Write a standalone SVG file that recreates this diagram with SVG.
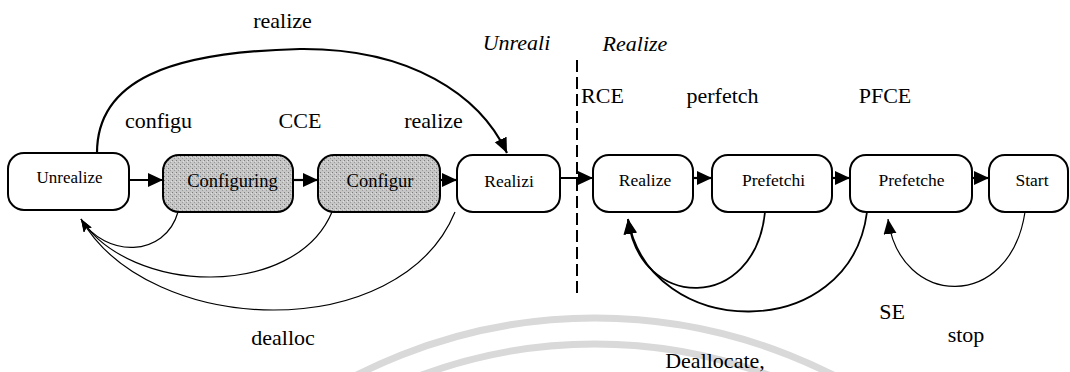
<svg xmlns="http://www.w3.org/2000/svg" width="1070" height="372" viewBox="0 0 1070 372">
  <defs>
    <pattern id="halftone" width="4" height="4" patternUnits="userSpaceOnUse">
      <rect width="4" height="4" fill="#c6c6c6"/>
      <rect x="0" y="0" width="1" height="1" fill="#7a7a7a"/>
      <rect x="2" y="2" width="1" height="1" fill="#9a9a9a"/>
      <rect x="3" y="1" width="1" height="1" fill="#e0e0e0"/>
    </pattern>
    <marker id="head" markerUnits="userSpaceOnUse" markerWidth="16" markerHeight="14" refX="15" refY="7" orient="auto">
      <path d="M0,0 L15,7 L0,14 z" fill="#000"/>
    </marker>
    <marker id="headMid" markerUnits="userSpaceOnUse" markerWidth="16" markerHeight="14" refX="15" refY="6.5" orient="auto">
      <path d="M0,0 L15,6.5 L0,13 z" fill="#000"/>
    </marker>
    <marker id="headThin" markerUnits="userSpaceOnUse" markerWidth="14" markerHeight="10" refX="13" refY="4.5" orient="auto">
      <path d="M0,0 L13,4.5 L0,9 L3,4.5 z" fill="#000"/>
    </marker>
  </defs>

  <!-- faint background arcs -->
  <g id="backdrop" fill="none" stroke="#d9d9d9" stroke-width="7">
    <circle cx="595" cy="844" r="526"/>
    <circle cx="595" cy="844" r="500"/>
  </g>

  <!-- phase divider -->
  <line x1="577" y1="60" x2="577" y2="296" stroke="#000" stroke-width="2" stroke-dasharray="12 5"/>

  <!-- connectors -->
  <g id="connectors" fill="none" stroke="#000">
    <g stroke-width="2.2" marker-end="url(#head)">
      <line x1="129" y1="180" x2="163" y2="180"/>
      <line x1="293" y1="180" x2="318" y2="180"/>
      <line x1="440" y1="180" x2="457" y2="180"/>
      <line x1="560" y1="178" x2="593" y2="178"/>
      <line x1="693" y1="178" x2="712" y2="178"/>
      <line x1="832" y1="178" x2="850" y2="178"/>
      <line x1="972" y1="178" x2="989" y2="178"/>
    </g>

    <!-- realize: Unrealized straight to Realizing -->
    <path stroke-width="2.2" d="M97,153 C97,80 170,52 300,49 C410,48 480,95 507,153" marker-end="url(#headMid)"/>

    <!-- deallocate back to Unrealized -->
    <g stroke-width="1.2" marker-end="url(#headThin)">
      <path d="M178,212 C165,258 105,258 81,219"/>
      <path d="M332,212 C295,300 130,295 81,219"/>
      <path d="M455,212 C400,345 150,338 81,219"/>
    </g>

    <!-- deallocate back to Realized -->
    <g stroke-width="1.8" marker-end="url(#headMid)">
      <path d="M765,212 C755,312 640,312 628,219"/>
      <path d="M867,212 C850,345 650,342 628,219"/>
    </g>

    <!-- stop back to Prefetched -->
    <path stroke-width="1.2" d="M1025,212 C1010,312 900,308 888,219" marker-end="url(#headMid)"/>
  </g>

  <!-- states -->
  <g stroke="#000" stroke-width="2">
    <g id="unrealized">
      <rect x="8" y="153" width="121" height="57" rx="16" fill="#fff"/>
      <text font-family="Liberation Serif" font-size="17" text-anchor="middle" x="69.5" y="183" stroke="none" fill="#000">Unrealize</text>
    </g>
    <g id="configuring">
      <rect x="163" y="155" width="130" height="57" rx="16" fill="url(#halftone)"/>
      <text font-family="Liberation Serif" font-size="18.5" text-anchor="middle" x="232.5" y="187" stroke="none" fill="#000">Configuring</text>
    </g>
    <g id="configured">
      <rect x="318" y="155" width="122" height="57" rx="16" fill="url(#halftone)"/>
      <text font-family="Liberation Serif" font-size="18.5" text-anchor="middle" x="380" y="187" stroke="none" fill="#000">Configur</text>
    </g>
    <g id="realizing">
      <rect x="457" y="155" width="103" height="57" rx="16" fill="#fff"/>
      <text font-family="Liberation Serif" font-size="17.5" text-anchor="middle" x="509" y="187" stroke="none" fill="#000">Realizi</text>
    </g>
    <g id="realized">
      <rect x="593" y="155" width="100" height="57" rx="16" fill="#fff"/>
      <text font-family="Liberation Serif" font-size="17.5" text-anchor="middle" x="645" y="186" stroke="none" fill="#000">Realize</text>
    </g>
    <g id="prefetching">
      <rect x="712" y="155" width="120" height="57" rx="16" fill="#fff"/>
      <text font-family="Liberation Serif" font-size="17.5" text-anchor="middle" x="773.5" y="186" stroke="none" fill="#000">Prefetchi</text>
    </g>
    <g id="prefetched">
      <rect x="850" y="155" width="122" height="57" rx="16" fill="#fff"/>
      <text font-family="Liberation Serif" font-size="17.5" text-anchor="middle" x="911.5" y="186" stroke="none" fill="#000">Prefetche</text>
    </g>
    <g id="started">
      <rect x="989" y="155" width="79" height="57" rx="16" fill="#fff"/>
      <text font-family="Liberation Serif" font-size="17.5" text-anchor="middle" x="1032" y="186" stroke="none" fill="#000">Start</text>
    </g>
  </g>

  <!-- transition and phase labels -->
  <g id="labels" text-anchor="middle" fill="#000">
    <text font-family="Liberation Serif" font-size="22" x="282.5" y="28">realize</text>
    <text font-family="Liberation Serif" font-size="22" x="158.5" y="128">configu</text>
    <text font-family="Liberation Serif" font-size="22" x="300" y="128">CCE</text>
    <text font-family="Liberation Serif" font-size="22" x="433.5" y="128">realize</text>
    <text font-family="Liberation Serif" font-size="22" font-style="italic" x="516.5" y="50">Unreali</text>
    <text font-family="Liberation Serif" font-size="22" font-style="italic" x="635" y="51">Realize</text>
    <text font-family="Liberation Serif" font-size="22" x="602.5" y="103">RCE</text>
    <text font-family="Liberation Serif" font-size="22" x="722.5" y="103">perfetch</text>
    <text font-family="Liberation Serif" font-size="22" x="885" y="103">PFCE</text>
    <text font-family="Liberation Serif" font-size="22" x="283" y="345">dealloc</text>
    <text font-family="Liberation Serif" font-size="22" x="892" y="319">SE</text>
    <text font-family="Liberation Serif" font-size="22" x="966" y="342">stop</text>
    <text font-family="Liberation Serif" font-size="22" x="715" y="368">Deallocate,</text>
  </g>
</svg>
